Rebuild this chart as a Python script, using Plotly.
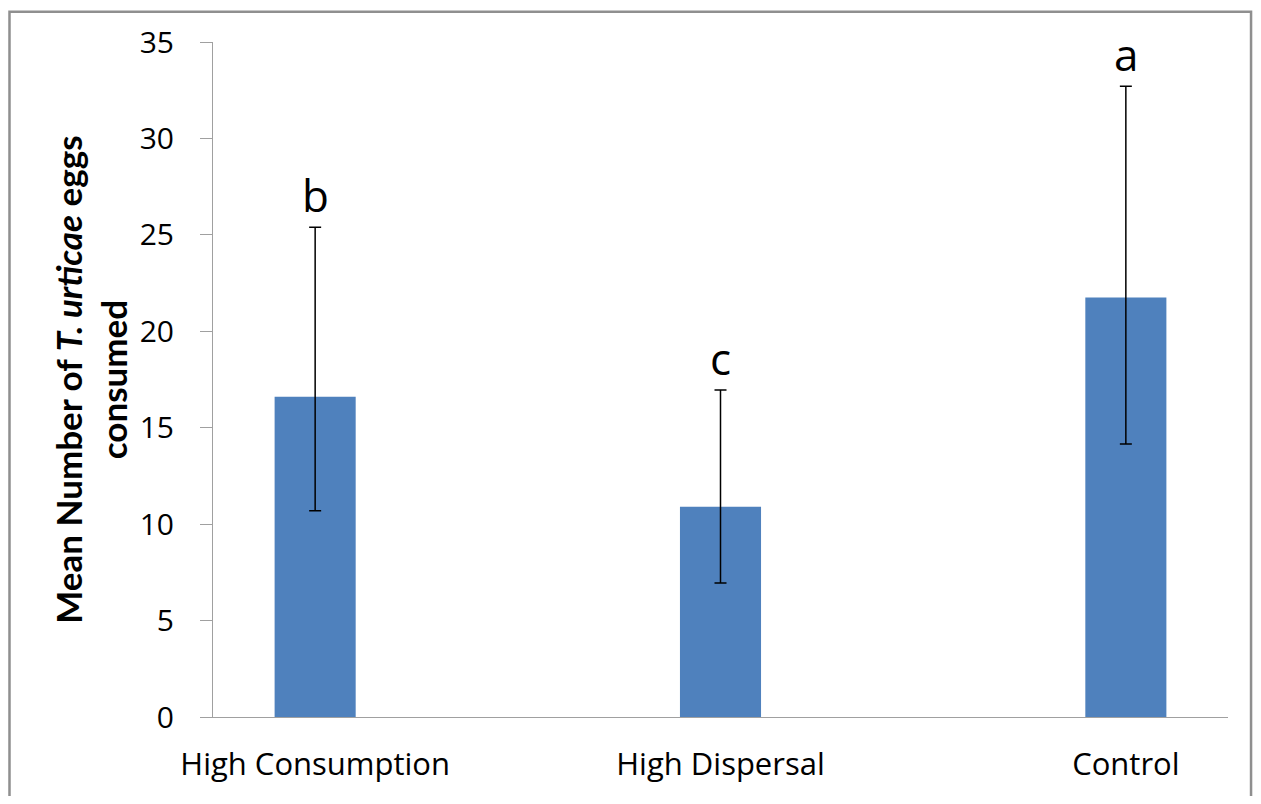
import plotly.graph_objects as go

categories = ["High Consumption", "High Dispersal", "Control"]
means = [16.6, 10.9, 21.75]
err_upper = [25.4, 16.95, 32.7]
err_lower = [10.7, 6.95, 14.15]
letters = ["b", "c", "a"]
y_ticks = [0, 5, 10, 15, 20, 25, 30, 35]

plus = [u - m for u, m in zip(err_upper, means)]
minus = [m - l for m, l in zip(means, err_lower)]

FONT = "Open Sans"
TITLE_FONT = "Lato"

fig = go.Figure()
fig.add_trace(go.Bar(
    x=categories, y=means, width=0.2,
    marker=dict(color="#4f81bd", line=dict(width=0)),
    error_y=dict(type="data", symmetric=False, array=plus, arrayminus=minus,
                 color="black", thickness=1.5, width=6),
))

for c, u, l in zip(categories, err_upper, letters):
    fig.add_annotation(x=c, y=u, text=l, showarrow=False, yanchor="bottom",
                       yshift=0, font=dict(family=FONT, size=44, color="black"))

fig.add_annotation(
    xref="paper", yref="paper", x=-0.121, y=0.5, textangle=-90,
    xanchor="center", yanchor="middle",
    text="<b>Mean Number of <i>T. urticae</i> eggs<br>consumed</b>",
    showarrow=False, font=dict(family=TITLE_FONT, size=35, color="black"),
)

# outer chart border
fig.add_shape(type="rect", xref="paper", yref="paper",
              x0=-0.2005, x1=1.0227, y0=-0.2, y1=1.045,
              line=dict(color="#8f8f8f", width=2.5), layer="below")

fig.update_layout(
    width=1245, height=788,
    margin=dict(l=205, r=25, t=32, b=78),
    paper_bgcolor="white", plot_bgcolor="white",
    showlegend=False,
    font=dict(family=FONT, color="black"),
)
fig.update_xaxes(
    range=[-0.252, 2.252], showline=True, linecolor="#a0a0a0", linewidth=1,
    ticks="", showgrid=False, tickfont=dict(size=31, family=FONT),
    ticklabelstandoff=20,
)
fig.update_yaxes(
    range=[0, 35], tickvals=y_ticks, showline=True, linecolor="#a0a0a0", linewidth=1,
    ticks="outside", ticklen=12, tickcolor="#a0a0a0", showgrid=False, zeroline=False,
    tickfont=dict(size=30, family=FONT), ticklabelstandoff=20,
)

fig.write_html("out.html")
